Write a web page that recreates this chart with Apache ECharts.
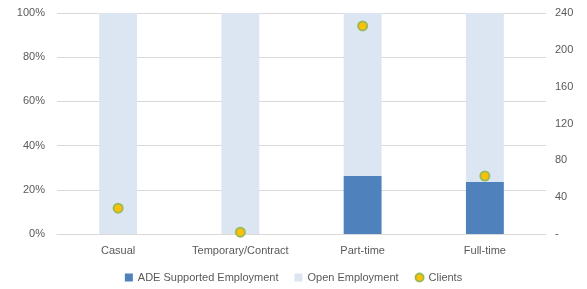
<!DOCTYPE html>
<html><head><meta charset="utf-8">
<script src="https://cdn.jsdelivr.net/npm/echarts@6/dist/echarts.min.js"></script>
<style>html,body{margin:0;padding:0;background:#fff}#c{width:587px;height:289px}</style>
</head><body><div id="c"></div>
<script>
var categories = ['Casual', 'Temporary/Contract', 'Part-time', 'Full-time'];
var adeSupported = [0, 0, 26.2, 23.5];
var openEmployment = [100, 100, 73.8, 76.5];
var clients = [28, 2, 226, 63];
var leftTicks = ['0%', '20%', '40%', '60%', '80%', '100%'];
var rightTicks = ['-', '40', '80', '120', '160', '200', '240'];

var chart = echarts.init(document.getElementById('c'));
var font = '"Liberation Sans", "DejaVu Sans", sans-serif';
chart.setOption({
  animation: false,
  textStyle: {fontFamily: font},
  grid: {left: 57, right: 41, top: 13, bottom: 55},
  legend: {
    bottom: 1, left: 'center', itemWidth: 8, itemHeight: 8, itemGap: 16, itemTextGap: 4,
    textStyle: {color: '#595959', fontSize: 11, fontFamily: font},
    data: [
      {name: 'ADE Supported Employment', icon: 'rect'},
      {name: 'Open Employment', icon: 'rect'},
      {name: 'Clients', icon: 'circle', itemStyle: {color: '#ffc000', borderColor: '#9bbb59', borderWidth: 2}}
    ]
  },
  xAxis: {
    type: 'category', data: categories,
    axisLine: {lineStyle: {color: '#d9d9d9'}},
    axisTick: {show: false},
    axisLabel: {color: '#595959', fontSize: 11, margin: 11, interval: 0}
  },
  yAxis: [
    {type: 'value', min: 0, max: 100, interval: 20,
     axisLabel: {color: '#595959', fontSize: 11, margin: 12,
       formatter: function(v){ return leftTicks[Math.round(v/20)]; }},
     splitLine: {lineStyle: {color: '#d9d9d9'}},
     axisLine: {show: false}, axisTick: {show: false}},
    {type: 'value', min: 0, max: 240, interval: 40,
     axisLabel: {color: '#595959', fontSize: 11, margin: 9,
       formatter: function(v){ return rightTicks[Math.round(v/40)]; }},
     splitLine: {show: false},
     axisLine: {show: false}, axisTick: {show: false}}
  ],
  series: [
    {name: 'ADE Supported Employment', type: 'bar', stack: 'a', data: adeSupported,
     barWidth: '31%', itemStyle: {color: '#4f81bd'}},
    {name: 'Open Employment', type: 'bar', stack: 'a', data: openEmployment,
     barWidth: '31%', itemStyle: {color: '#dce6f2'}},
    {name: 'Clients', type: 'scatter', yAxisIndex: 1, data: clients,
     symbol: 'circle', symbolSize: 9,
     itemStyle: {color: '#ffc000', borderColor: '#9bbb59', borderWidth: 2, opacity: 1}}
  ]
});
</script></body></html>
